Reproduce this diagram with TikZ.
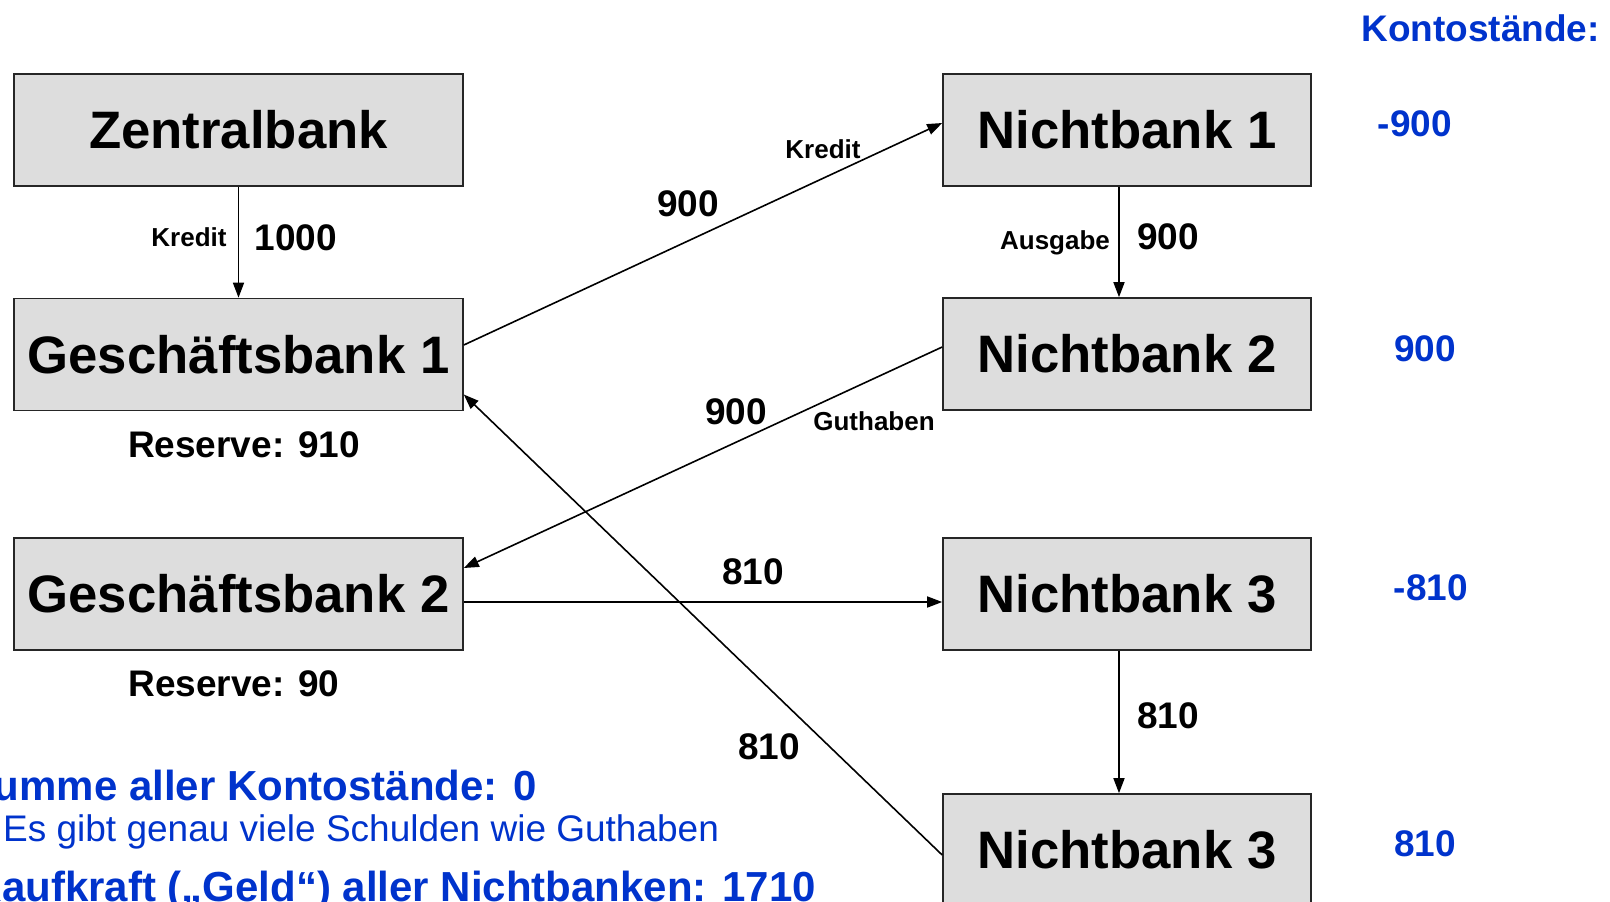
\documentclass[tikz,border=0pt]{standalone}
\usepackage{fontspec}
\setmainfont{Liberation Sans}
\usetikzlibrary{arrows.meta}
\definecolor{kblue}{RGB}{0,51,204}
\definecolor{boxgray}{RGB}{221,221,221}

\begin{document}
\begin{tikzpicture}[x=1pt,y=-1pt,
  bank/.style={draw=black!85,line width=1.6pt,fill=boxgray,minimum height=112pt,inner sep=0pt,
    font=\fontsize{52.7}{60}\selectfont\bfseries,text height=37.7pt,text depth=0pt},
  wide/.style={bank,minimum width=449pt},
  narrow/.style={bank,minimum width=368pt},
  flow/.style={line width=1.6pt,-{Triangle[length=15pt,width=11pt]}},
  big/.style={font=\fontsize{37}{44}\selectfont\bfseries,inner sep=0pt,text height=26.5pt,text depth=0pt},
  small/.style={font=\fontsize{26}{31}\selectfont\bfseries,inner sep=0pt,text height=18.6pt,text depth=0pt},
  konto/.style={big,text=kblue},
  summe/.style={font=\fontsize{42}{49}\selectfont\bfseries,inner sep=0pt,text=kblue},
  hinweis/.style={font=\fontsize{37}{44}\selectfont,inner sep=0pt,text=kblue}]
\useasboundingbox (0,0) rectangle (1610,902);

\node[wide] (zb) at (238.5,130) {Zentralbank};
\node[wide] (gb1) at (238.5,354.5) {Geschäftsbank 1};
\node[wide] (gb2) at (238.5,594) {Geschäftsbank 2};
\node[narrow] (nb1) at (1127,130) {Nichtbank 1};
\node[narrow] (nb2) at (1127,354) {Nichtbank 2};
\node[narrow] (nb3) at (1127,594) {Nichtbank 3};
\node[narrow] (nb4) at (1127,850) {Nichtbank 3};

\draw[flow] (zb) -- (gb1);
\draw[flow] ([yshift=9.5pt]gb1.east) -- ([yshift=7pt]nb1.west);
\draw[flow] ([xshift=-8pt]nb1.south) -- ([xshift=-8pt]nb2.north);
\draw[flow] ([yshift=7pt]nb2.west) -- ([yshift=26pt]gb2.east);
\draw[flow] ([yshift=-8pt]gb2.east) -- ([yshift=-8pt]nb3.west);
\draw[flow] ([xshift=-8pt]nb3.south) -- ([xshift=-8pt]nb4.north);
\draw[flow] ([yshift=-5pt]nb4.west) -- ([yshift=-40pt]gb1.east);

\node[small] (kredit1) at (189,237) {Kredit};
\node[big] (wert1000) at (296,237) {1000};
\node[small] (kredit2) at (823,149) {Kredit};
\node[big] (wert900a) at (688,203) {900};
\node[small] (ausgabe) at (1055,240) {Ausgabe};
\node[big] (wert900b) at (1168,236) {900};
\node[big] (wert900c) at (736,411) {900};
\node[small] (guthaben) at (874,421) {Guthaben};
\node[big] (wert810a) at (753,571) {810};
\node[big] (wert810b) at (1168,715) {810};
\node[big] (wert810c) at (769,746) {810};
\node[big] (res1) at (244,444) {Reserve: 910};
\node[big] (res2) at (234,683) {Reserve: 90};

\node[konto,anchor=east] (kopf) at (1600,28) {Kontostände:};
\node[konto] (konto1) at (1415,123) {-900};
\node[konto] (konto2) at (1425,348) {900};
\node[konto] (konto3) at (1431,587) {-810};
\node[konto] (konto4) at (1425,843) {810};

\node[summe,anchor=base east] (summe) at (537,800) {Summe aller Kontostände: 0};
\node[hinweis,anchor=base west] (gleich) at (3,841) {Es gibt genau viele Schulden wie Guthaben};
\node[summe,anchor=base east] (kaufkraft) at (816,901) {Kaufkraft („Geld“) aller Nichtbanken: 1710};
\end{tikzpicture}
\end{document}
